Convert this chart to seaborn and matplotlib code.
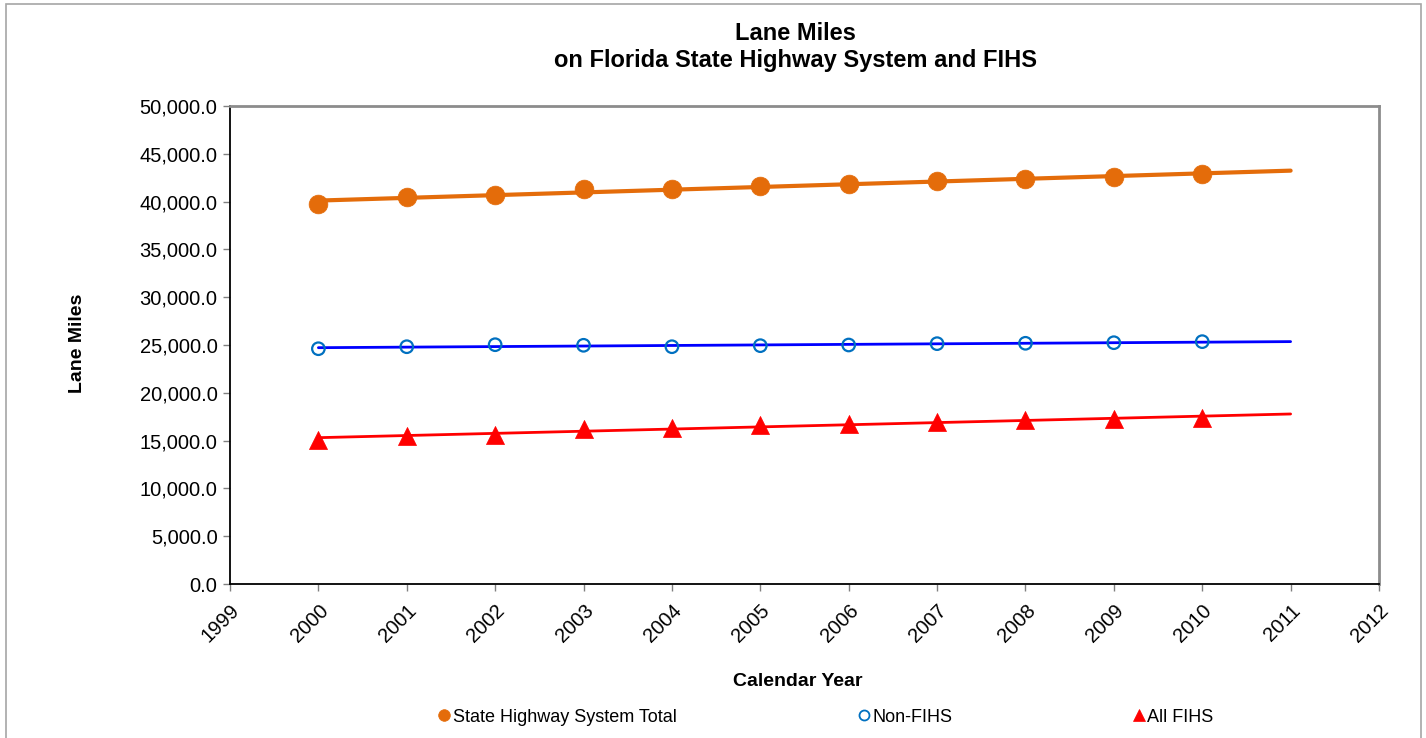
import numpy as np
import pandas as pd
import matplotlib
matplotlib.use("Agg")
import matplotlib.pyplot as plt
from matplotlib.ticker import FuncFormatter, MultipleLocator
from matplotlib.lines import Line2D
from matplotlib.patches import Rectangle
import seaborn as sns

# Lane miles by calendar year
years = [2000, 2001, 2002, 2003, 2004, 2005, 2006, 2007, 2008, 2009, 2010]
shs_total = [39750, 40450, 40690, 41280, 41280, 41630, 41810, 42120, 42400, 42570, 42850]
non_fihs = [24610, 24820, 25030, 24970, 24820, 24930, 25000, 25140, 25180, 25240, 25350]
all_fihs = [15060, 15530, 15590, 16210, 16370, 16610, 16720, 16930, 17140, 17240, 17360]

series_names = ["State Highway System Total", "Non-FIHS", "All FIHS"]
year_ticks = list(range(1999, 2013))
trend_end = 2011

sns.set_theme(style="white")
plt.rcParams["font.family"] = ["Liberation Sans", "DejaVu Sans"]
plt.rcParams["text.color"] = "black"
plt.rcParams["xtick.color"] = "black"
plt.rcParams["ytick.color"] = "black"
plt.rcParams["xtick.labelcolor"] = "black"
plt.rcParams["ytick.labelcolor"] = "black"

fig = plt.figure(figsize=(14.26, 7.38), dpi=100)
ax = fig.add_axes([230 / 1426, 1 - 584 / 738, 1149 / 1426, 478 / 738])

# outer chart border
fig.patches.append(Rectangle((6 / 1426, -0.01), 1415 / 1426, 1 - 4 / 738 + 0.01,
                             transform=fig.transFigure, fill=False,
                             edgecolor="#a6a6a6", linewidth=1.2))

df = pd.DataFrame({"year": years, series_names[0]: shs_total,
                   series_names[1]: non_fihs, series_names[2]: all_fihs})

styles = {
    series_names[0]: dict(marker="o", size=13.5, face="#E46C0A", edge="#E46C0A",
                          line="#E46C0A", lw=3.0, ew=0.5, leg=8.4, legew=0.5),
    series_names[1]: dict(marker="o", size=9.0, face="none", edge="#0070C0",
                          line="#0000FF", lw=2.0, ew=1.6, leg=7.2, legew=1.3),
    series_names[2]: dict(marker="^", size=13.0, face="#FF0000", edge="#FF0000",
                          line="#FF0000", lw=2.0, ew=0.5, leg=8.4, legew=0.5),
}

trend_x = np.array([years[0], trend_end], dtype=float)
for name in series_names:
    st = styles[name]
    coef = np.polyfit(df["year"], df[name], 1)
    trend = pd.DataFrame({"year": trend_x, "value": np.polyval(coef, trend_x)})
    sns.lineplot(data=trend, x="year", y="value", ax=ax, color=st["line"],
                 linewidth=st["lw"], zorder=2)
    sns.scatterplot(data=df, x="year", y=name, ax=ax, marker=st["marker"],
                    s=st["size"] ** 2, facecolor=st["face"], edgecolor=st["edge"],
                    linewidth=st["ew"], zorder=3)

ax.set_xlim(1999, 2012)
ax.set_ylim(0, 50000)
ax.set_xticks(year_ticks)
ax.set_xticklabels([str(y) for y in year_ticks], rotation=45, ha="right",
                   rotation_mode="anchor", fontsize=14.5)
ax.yaxis.set_major_locator(MultipleLocator(5000))
ax.yaxis.set_major_formatter(FuncFormatter(lambda v, p: f"{v:,.1f}"))
ax.tick_params(axis="y", labelsize=14.5, length=5, width=1, color="#808080",
               direction="out", left=True, pad=4)
ax.tick_params(axis="x", length=5, width=1, color="#808080", direction="out",
               bottom=True, pad=7)

for side in ["left", "bottom"]:
    ax.spines[side].set_color("black")
    ax.spines[side].set_linewidth(1.3)
for side in ["top", "right"]:
    ax.spines[side].set_color("#8c8c8c")
    ax.spines[side].set_linewidth(2.0)
ax.grid(False)

ax.set_xlabel("")
ax.set_ylabel("")
fig.text(77 / 1426, 1 - 343 / 738, "Lane Miles", rotation=90, fontsize=14,
         fontweight="bold", ha="center", va="center")
fig.text(798 / 1426, 1 - 681 / 738, "Calendar Year", fontsize=14,
         fontweight="bold", ha="center", va="center")
fig.text(795 / 1426, 1 - 47 / 738, "Lane Miles\non Florida State Highway System and FIHS",
         fontsize=17, fontweight="bold", ha="center", va="center", linespacing=1.25)

handles = []
for name in series_names:
    st = styles[name]
    handles.append(Line2D([], [], linestyle="none", marker=st["marker"],
                          markersize=st["leg"],
                          markerfacecolor=st["face"], markeredgecolor=st["edge"],
                          markeredgewidth=st["legew"]))
fig.legend(handles, series_names, loc="center left",
           bbox_to_anchor=(438 / 1426, 1 - 717 / 738), ncol=3, frameon=False,
           fontsize=13, handlelength=0.7, handletextpad=0.12,
           columnspacing=10.0, borderpad=0, borderaxespad=0)

fig.savefig("out.png", dpi=100)
